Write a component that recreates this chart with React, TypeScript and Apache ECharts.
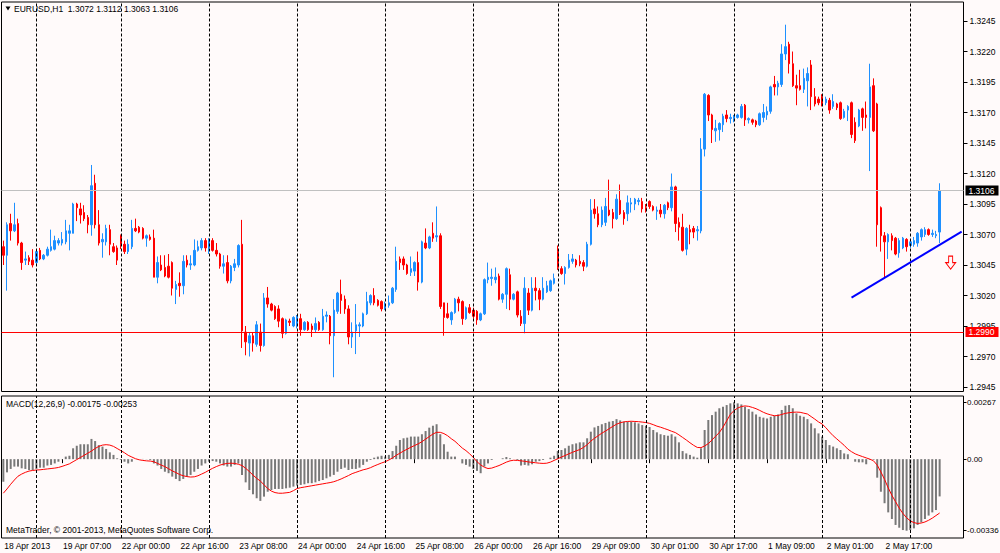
import React, { useEffect, useRef } from 'react';
import * as echarts from 'echarts';

const SYMBOL = 'EURUSD,H1';
const COPYRIGHT = 'MetaTrader, \u00a9 2001-2013, MetaQuotes Software Corp.';
const MACD_NAME = 'MACD(12,26,9)';

const dayLabels = ['18 Apr', '19 Apr', '22 Apr', '23 Apr', '24 Apr', '25 Apr', '26 Apr', '29 Apr', '30 Apr', '1 May', '2 May', '3 May'];
const dayFirstHour = [15, 0, 0, 0, 0, 0, 0, 0, 0, 0, 0, 0];
const dayBarCount = [9, 23, 24, 24, 24, 24, 23, 24, 24, 24, 24, 9];
const EMPTY_SLOTS = 6;
const LABEL_EVERY = 16;
const tickLabels = ['18 Apr 2013', '19 Apr 07:00', '22 Apr 00:00', '22 Apr 16:00', '23 Apr 08:00', '24 Apr 00:00', '24 Apr 16:00', '25 Apr 08:00', '26 Apr 00:00', '26 Apr 16:00', '29 Apr 09:00', '30 Apr 01:00', '30 Apr 17:00', '1 May 09:00', '2 May 01:00', '2 May 17:00'];

// [open, close, low, high]
const candles: number[][] = [
  [1.3060,1.3053,1.3045,1.3065],[1.3053,1.3078,1.3024,1.3080],[1.3079,1.3073,1.3065,1.3087],[1.3073,1.3078,1.3072,1.3096],[1.3079,1.3063,1.3061,1.3083],
  [1.3063,1.3047,1.3041,1.3064],[1.3049,1.3050,1.3045,1.3056],[1.3051,1.3048,1.3045,1.3053],[1.3049,1.3045,1.3043,1.3058],[1.3047,1.3056,1.3046,1.3058],
  [1.3057,1.3050,1.3049,1.3059],[1.3050,1.3053,1.3049,1.3054],[1.3053,1.3058,1.3052,1.3060],[1.3057,1.3060,1.3056,1.3074],[1.3058,1.3065,1.3057,1.3069],
  [1.3063,1.3065,1.3061,1.3067],[1.3063,1.3066,1.3061,1.3072],[1.3064,1.3073,1.3062,1.3082],[1.3071,1.3073,1.3057,1.3078],[1.3071,1.3095,1.3071,1.3096],
  [1.3095,1.3092,1.3081,1.3096],[1.3091,1.3086,1.3079,1.3096],[1.3088,1.3083,1.3081,1.3094],[1.3084,1.3078,1.3071,1.3086],[1.3078,1.3110,1.3069,1.3127],
  [1.3112,1.3078,1.3075,1.3119],[1.3078,1.3063,1.3061,1.3090],[1.3064,1.3066,1.3051,1.3071],[1.3064,1.3075,1.3061,1.3078],[1.3074,1.3062,1.3053,1.3078],
  [1.3060,1.3056,1.3055,1.3063],[1.3059,1.3049,1.3045,1.3061],[1.3069,1.3062,1.3058,1.3070],[1.3062,1.3056,1.3054,1.3065],[1.3056,1.3062,1.3054,1.3066],
  [1.3060,1.3075,1.3058,1.3082],[1.3075,1.3073,1.3072,1.3083],[1.3076,1.3072,1.3071,1.3077],[1.3075,1.3067,1.3066,1.3076],[1.3067,1.3069,1.3060,1.3070],
  [1.3068,1.3066,1.3065,1.3070],[1.3067,1.3035,1.3035,1.3074],[1.3035,1.3047,1.3030,1.3052],[1.3045,1.3041,1.3040,1.3053],[1.3043,1.3036,1.3035,1.3053],
  [1.3044,1.3035,1.3034,1.3054],[1.3047,1.3026,1.3020,1.3048],[1.3025,1.3029,1.3013,1.3032],[1.3030,1.3028,1.3019,1.3039],[1.3028,1.3048,1.3021,1.3053],
  [1.3049,1.3045,1.3043,1.3053],[1.3045,1.3046,1.3041,1.3053],[1.3045,1.3057,1.3044,1.3066],[1.3057,1.3060,1.3056,1.3065],[1.3059,1.3065,1.3057,1.3067],
  [1.3065,1.3059,1.3056,1.3067],[1.3059,1.3065,1.3054,1.3067],[1.3065,1.3057,1.3056,1.3067],[1.3057,1.3054,1.3052,1.3063],[1.3054,1.3044,1.3042,1.3055],
  [1.3044,1.3046,1.3038,1.3053],[1.3047,1.3032,1.3030,1.3053],[1.3032,1.3044,1.3030,1.3045],[1.3043,1.3046,1.3040,1.3050],[1.3045,1.3061,1.3043,1.3062],
  [1.3062,1.2991,1.2977,1.3082],[1.2990,1.2982,1.2971,1.2995],[1.2981,1.2987,1.2970,1.2990],[1.2987,1.2981,1.2974,1.2990],[1.2980,1.2996,1.2978,1.2999],
  [1.2990,1.2979,1.2974,1.2997],[1.2979,1.3018,1.2978,1.3022],[1.3018,1.3013,1.3010,1.3027],[1.3013,1.3008,1.3007,1.3014],[1.3011,1.3001,1.3000,1.3012],
  [1.3009,1.2999,1.2994,1.3012],[1.3001,1.2989,1.2985,1.3002],[1.2989,1.3000,1.2988,1.3001],[1.2999,1.2998,1.2995,1.3001],[1.2995,1.3002,1.2994,1.3003],
  [1.2996,1.3003,1.2993,1.3004],[1.3001,1.2992,1.2987,1.3005],[1.2992,1.2998,1.2991,1.2999],[1.2998,1.2992,1.2991,1.2999],[1.2995,1.2992,1.2986,1.2997],
  [1.2992,1.2997,1.2990,1.3002],[1.2998,1.2992,1.2991,1.2999],[1.2992,1.3003,1.2991,1.3009],[1.3003,1.3004,1.2998,1.3007],[1.3003,1.2987,1.2980,1.3004],
  [1.2987,1.3008,1.2953,1.3017],[1.3007,1.3022,1.3005,1.3023],[1.3021,1.3016,1.3005,1.3033],[1.3017,1.3009,1.3005,1.3020],[1.3009,1.2986,1.2980,1.3012],
  [1.2986,1.2990,1.2977,1.2998],[1.2991,1.2996,1.2972,1.3013],[1.2995,1.2996,1.2986,1.2998],[1.2995,1.3005,1.2994,1.3006],[1.3005,1.3015,1.3004,1.3023],
  [1.3014,1.3020,1.3012,1.3021],[1.3020,1.3014,1.3012,1.3026],[1.3016,1.3012,1.3011,1.3017],[1.3015,1.3009,1.3007,1.3016],[1.3009,1.3013,1.3008,1.3015],
  [1.3012,1.3014,1.3010,1.3020],[1.3014,1.3026,1.3013,1.3027],[1.3025,1.3048,1.3023,1.3060],[1.3050,1.3047,1.3041,1.3052],[1.3050,1.3045,1.3041,1.3052],
  [1.3045,1.3038,1.3037,1.3046],[1.3039,1.3042,1.3036,1.3052],[1.3040,1.3047,1.3036,1.3048],[1.3047,1.3031,1.3024,1.3056],[1.3031,1.3064,1.3030,1.3065],
  [1.3063,1.3059,1.3058,1.3075],[1.3059,1.3068,1.3058,1.3069],[1.3071,1.3067,1.3064,1.3080],[1.3068,1.3069,1.3064,1.3093],[1.3069,1.3011,1.3009,1.3071],
  [1.3014,1.3002,1.2987,1.3014],[1.3005,1.3002,1.3001,1.3014],[1.3000,1.3006,1.2996,1.3007],[1.3006,1.3017,1.3005,1.3018],[1.3017,1.3014,1.3007,1.3019],
  [1.3015,1.3001,1.2996,1.3016],[1.3001,1.3010,1.3000,1.3011],[1.3010,1.3006,1.3005,1.3013],[1.3008,1.3003,1.3001,1.3010],[1.3007,1.3000,1.2996,1.3008],
  [1.3000,1.3005,1.2999,1.3006],[1.3005,1.3033,1.3004,1.3034],[1.3033,1.3035,1.3030,1.3047],[1.3034,1.3035,1.3028,1.3042],[1.3033,1.3035,1.3030,1.3043],
  [1.3036,1.3017,1.3016,1.3038],[1.3017,1.3021,1.3014,1.3022],[1.3021,1.3042,1.3009,1.3043],[1.3037,1.3017,1.3008,1.3042],[1.3017,1.3021,1.3016,1.3022],
  [1.3023,1.3004,1.3002,1.3024],[1.3003,1.2997,1.2995,1.3008],[1.2997,1.3026,1.2989,1.3035],[1.3022,1.3008,1.3004,1.3026],[1.3008,1.3026,1.3007,1.3035],
  [1.3026,1.3024,1.3016,1.3035],[1.3024,1.3017,1.3008,1.3026],[1.3017,1.3026,1.3016,1.3035],[1.3023,1.3028,1.3022,1.3032],[1.3024,1.3032,1.3023,1.3033],
  [1.3030,1.3034,1.3029,1.3038],[1.3056,1.3043,1.3041,1.3061],[1.3042,1.3038,1.3037,1.3044],[1.3038,1.3043,1.3029,1.3044],[1.3043,1.3049,1.3042,1.3054],
  [1.3048,1.3050,1.3046,1.3054],[1.3049,1.3045,1.3043,1.3050],[1.3048,1.3046,1.3044,1.3053],[1.3047,1.3044,1.3040,1.3049],[1.3044,1.3062,1.3043,1.3064],
  [1.3062,1.3090,1.3061,1.3099],[1.3091,1.3087,1.3083,1.3099],[1.3087,1.3078,1.3076,1.3093],[1.3078,1.3090,1.3076,1.3093],[1.3080,1.3093,1.3077,1.3100],
  [1.3090,1.3086,1.3085,1.3115],[1.3088,1.3083,1.3075,1.3091],[1.3083,1.3099,1.3082,1.3103],[1.3098,1.3087,1.3086,1.3111],[1.3088,1.3083,1.3078,1.3090],
  [1.3087,1.3096,1.3081,1.3102],[1.3095,1.3096,1.3088,1.3100],[1.3095,1.3099,1.3090,1.3100],[1.3097,1.3098,1.3094,1.3100],[1.3097,1.3091,1.3088,1.3100],
  [1.3092,1.3090,1.3088,1.3095],[1.3097,1.3093,1.3091,1.3098],[1.3093,1.3090,1.3089,1.3094],[1.3089,1.3090,1.3082,1.3093],[1.3090,1.3087,1.3084,1.3095],
  [1.3087,1.3094,1.3083,1.3095],[1.3096,1.3092,1.3090,1.3097],[1.3092,1.3109,1.3089,1.3120],[1.3109,1.3079,1.3072,1.3110],[1.3080,1.3076,1.3065,1.3084],
  [1.3076,1.3057,1.3056,1.3087],[1.3058,1.3075,1.3053,1.3076],[1.3074,1.3072,1.3062,1.3078],[1.3075,1.3072,1.3067,1.3077],[1.3073,1.3074,1.3065,1.3077],
  [1.3073,1.3140,1.3071,1.3149],[1.3140,1.3185,1.3134,1.3186],[1.3184,1.3168,1.3163,1.3185],[1.3168,1.3156,1.3145,1.3169],[1.3155,1.3157,1.3146,1.3164],
  [1.3156,1.3161,1.3147,1.3162],[1.3160,1.3167,1.3154,1.3169],[1.3168,1.3165,1.3162,1.3172],[1.3165,1.3166,1.3161,1.3169],[1.3165,1.3167,1.3162,1.3168],
  [1.3166,1.3168,1.3165,1.3169],[1.3166,1.3175,1.3165,1.3177],[1.3176,1.3164,1.3159,1.3177],[1.3164,1.3165,1.3161,1.3166],[1.3164,1.3162,1.3160,1.3165],
  [1.3163,1.3160,1.3158,1.3164],[1.3160,1.3169,1.3159,1.3170],[1.3166,1.3170,1.3162,1.3177],[1.3168,1.3171,1.3164,1.3175],[1.3171,1.3191,1.3169,1.3192],
  [1.3193,1.3191,1.3184,1.3200],[1.3191,1.3194,1.3184,1.3196],[1.3193,1.3218,1.3191,1.3226],[1.3218,1.3224,1.3213,1.3242],[1.3226,1.3210,1.3202,1.3228],
  [1.3210,1.3192,1.3191,1.3220],[1.3192,1.3190,1.3176,1.3201],[1.3192,1.3189,1.3188,1.3205],[1.3189,1.3198,1.3186,1.3206],[1.3196,1.3202,1.3175,1.3207],
  [1.3209,1.3183,1.3172,1.3213],[1.3183,1.3177,1.3175,1.3190],[1.3181,1.3178,1.3176,1.3183],[1.3183,1.3177,1.3175,1.3185],[1.3178,1.3181,1.3176,1.3183],
  [1.3180,1.3172,1.3169,1.3182],[1.3175,1.3179,1.3173,1.3185],[1.3177,1.3174,1.3172,1.3178],[1.3178,1.3165,1.3164,1.3179],[1.3166,1.3171,1.3165,1.3173],
  [1.3172,1.3175,1.3163,1.3176],[1.3178,1.3152,1.3149,1.3179],[1.3162,1.3147,1.3145,1.3166],[1.3159,1.3172,1.3158,1.3173],[1.3173,1.3166,1.3155,1.3174],
  [1.3168,1.3166,1.3157,1.3179],[1.3166,1.3191,1.3122,1.3210],[1.3192,1.3155,1.3154,1.3198],[1.3177,1.3078,1.3060,1.3178],[1.3092,1.3069,1.3056,1.3093],
  [1.3069,1.3064,1.3035,1.3072],[1.3064,1.3070,1.3050,1.3071],[1.3069,1.3065,1.3057,1.3071],[1.3067,1.3054,1.3053,1.3068],[1.3055,1.3065,1.3051,1.3067],
  [1.3059,1.3067,1.3058,1.3068],[1.3066,1.3060,1.3056,1.3067],[1.3061,1.3064,1.3059,1.3066],[1.3062,1.3065,1.3060,1.3068],[1.3063,1.3071,1.3060,1.3072],
  [1.3068,1.3074,1.3065,1.3075],[1.3070,1.3074,1.3068,1.3076],[1.3074,1.3070,1.3069,1.3075],[1.3070,1.3071,1.3068,1.3074],[1.3069,1.3070,1.3067,1.3073],
  [1.3072,1.3106,1.3063,1.3112],
];

const macdHist: number[] = [
  -0.00106,-0.00062,-0.00046,-0.00035,-0.00035,-0.00043,-0.00046,-0.00051,-0.00051,-0.00046,
  -0.00040,-0.00040,-0.00030,-0.00027,-0.00020,-0.00012,-0.00001,0.00012,0.00016,0.00051,
  0.00063,0.00070,0.00070,0.00070,0.00095,0.00085,0.00066,0.00059,0.00048,0.00032,
  0.00020,0.00004,-0.00004,-0.00012,-0.00020,-0.00012,0.00000,0.00000,0.00001,-0.00001,
  -0.00004,-0.00020,-0.00030,-0.00046,-0.00059,-0.00066,-0.00082,-0.00093,-0.00103,-0.00093,
  -0.00082,-0.00074,-0.00059,-0.00046,-0.00030,-0.00020,-0.00012,-0.00009,-0.00012,-0.00020,
  -0.00030,-0.00035,-0.00035,-0.00027,-0.00020,-0.00074,-0.00109,-0.00145,-0.00165,-0.00184,
  -0.00196,-0.00176,-0.00153,-0.00145,-0.00140,-0.00140,-0.00140,-0.00137,-0.00134,-0.00129,
  -0.00124,-0.00121,-0.00118,-0.00113,-0.00113,-0.00109,-0.00103,-0.00098,-0.00090,-0.00082,
  -0.00074,-0.00059,-0.00046,-0.00040,-0.00051,-0.00046,-0.00046,-0.00040,-0.00027,-0.00012,
  -0.00004,0.00007,0.00012,0.00016,0.00012,0.00020,0.00038,0.00063,0.00090,0.00098,
  0.00101,0.00106,0.00106,0.00106,0.00117,0.00132,0.00148,0.00157,0.00164,0.00117,
  0.00070,0.00035,0.00012,0.00012,0.00000,-0.00020,-0.00027,-0.00035,-0.00046,-0.00055,
  -0.00066,-0.00035,-0.00020,-0.00004,0.00000,0.00000,0.00004,0.00010,0.00004,0.00000,
  -0.00004,-0.00030,-0.00027,-0.00030,-0.00024,-0.00012,-0.00009,-0.00004,0.00000,0.00007,
  0.00016,0.00038,0.00043,0.00051,0.00063,0.00070,0.00074,0.00079,0.00079,0.00098,
  0.00129,0.00149,0.00156,0.00164,0.00170,0.00176,0.00179,0.00188,0.00182,0.00176,
  0.00176,0.00176,0.00173,0.00168,0.00160,0.00157,0.00151,0.00137,0.00126,0.00117,
  0.00113,0.00110,0.00117,0.00106,0.00079,0.00038,0.00027,0.00020,0.00012,0.00007,
  0.00051,0.00137,0.00184,0.00207,0.00223,0.00239,0.00246,0.00254,0.00262,0.00267,
  0.00262,0.00257,0.00246,0.00235,0.00223,0.00210,0.00199,0.00195,0.00191,0.00199,
  0.00204,0.00210,0.00231,0.00251,0.00254,0.00239,0.00215,0.00204,0.00199,0.00188,
  0.00168,0.00145,0.00121,0.00106,0.00090,0.00066,0.00059,0.00051,0.00043,0.00027,
  0.00023,0.00000,-0.00012,-0.00015,-0.00015,-0.00024,-0.00003,-0.00003,-0.00087,-0.00153,
  -0.00207,-0.00250,-0.00281,-0.00309,-0.00322,-0.00333,-0.00336,-0.00333,-0.00325,-0.00309,
  -0.00297,-0.00281,-0.00265,-0.00250,-0.00239,-0.00175,
];

const macdSignal: number[] = [
  -0.00160,-0.00140,-0.00118,-0.00098,-0.00080,-0.00070,-0.00062,-0.00056,-0.00053,-0.00051,
  -0.00050,-0.00048,-0.00046,-0.00044,-0.00042,-0.00039,-0.00034,-0.00028,-0.00022,-0.00012,
  -0.00002,0.00008,0.00018,0.00028,0.00038,0.00050,0.00060,0.00066,0.00068,0.00066,
  0.00060,0.00050,0.00040,0.00030,0.00018,0.00010,0.00002,-0.00003,-0.00006,-0.00008,
  -0.00009,-0.00012,-0.00020,-0.00028,-0.00035,-0.00045,-0.00055,-0.00063,-0.00072,-0.00078,
  -0.00082,-0.00084,-0.00083,-0.00078,-0.00070,-0.00062,-0.00052,-0.00043,-0.00035,-0.00028,
  -0.00023,-0.00020,-0.00019,-0.00020,-0.00024,-0.00030,-0.00043,-0.00058,-0.00075,-0.00090,
  -0.00103,-0.00120,-0.00138,-0.00150,-0.00157,-0.00160,-0.00160,-0.00158,-0.00156,-0.00148,
  -0.00138,-0.00134,-0.00131,-0.00128,-0.00125,-0.00122,-0.00119,-0.00116,-0.00113,-0.00110,
  -0.00106,-0.00100,-0.00093,-0.00085,-0.00077,-0.00068,-0.00062,-0.00056,-0.00050,-0.00046,
  -0.00040,-0.00032,-0.00025,-0.00018,-0.00012,-0.00004,0.00006,0.00018,0.00028,0.00038,
  0.00047,0.00056,0.00064,0.00072,0.00082,0.00094,0.00106,0.00118,0.00126,0.00126,
  0.00120,0.00110,0.00096,0.00084,0.00068,0.00052,0.00040,0.00025,0.00008,-0.00012,
  -0.00027,-0.00038,-0.00044,-0.00042,-0.00036,-0.00030,-0.00022,-0.00014,-0.00008,-0.00005,
  -0.00006,-0.00008,-0.00010,-0.00013,-0.00015,-0.00017,-0.00019,-0.00020,-0.00019,-0.00014,
  -0.00006,0.00002,0.00010,0.00017,0.00025,0.00032,0.00039,0.00045,0.00055,0.00068,
  0.00085,0.00098,0.00110,0.00122,0.00132,0.00143,0.00154,0.00164,0.00171,0.00175,
  0.00177,0.00178,0.00177,0.00176,0.00174,0.00172,0.00168,0.00162,0.00155,0.00150,
  0.00144,0.00138,0.00131,0.00125,0.00114,0.00102,0.00090,0.00077,0.00065,0.00055,
  0.00054,0.00062,0.00073,0.00090,0.00108,0.00125,0.00150,0.00180,0.00210,0.00228,
  0.00240,0.00247,0.00250,0.00248,0.00243,0.00237,0.00229,0.00220,0.00213,0.00208,
  0.00204,0.00205,0.00210,0.00215,0.00218,0.00220,0.00221,0.00220,0.00216,0.00212,
  0.00200,0.00188,0.00175,0.00165,0.00148,0.00128,0.00110,0.00095,0.00080,0.00065,
  0.00047,0.00035,0.00025,0.00018,0.00012,0.00006,0.00000,-0.00008,-0.00028,-0.00060,
  -0.00095,-0.00135,-0.00170,-0.00200,-0.00230,-0.00255,-0.00275,-0.00290,-0.00298,-0.00302,
  -0.00300,-0.00295,-0.00287,-0.00277,-0.00265,-0.00253,
];

const supportLevel = 1.2990;
const trendLine = [[231, 1.30183], [261, 1.30723]];
const arrowMark = [258, 1.3047];
const PRICE_AXIS_MIN = 1.2945;
const PRICE_AXIS_MAX = 1.32606;
const PRICE_STEP = 0.0025;

const FONT_FAMILY = '"Liberation Sans", Arial, sans-serif';
const FONT_SIZE = 8.5;
const BG = '#fffafa';
const BULL = '#1e90ff';
const BEAR = '#ff0000';

export default function App() {
  const ref = useRef<HTMLDivElement>(null);
  useEffect(() => {
    document.body.style.margin = '0';
    const chart = echarts.init(ref.current!, null, { renderer: 'svg' });

    const categories: string[] = [];
    const separators: number[] = [];
    dayLabels.forEach((d, k) => {
      if (k > 0) separators.push(categories.length);
      for (let h = 0; h < dayBarCount[k]; h++) {
        categories.push(`${d} ${String(dayFirstHour[k] + h).padStart(2, '0')}:00`);
      }
    });
    const nBars = categories.length;
    const xCats = categories.concat(Array.from({ length: EMPTY_SLOTS }, (_, i) => `pad${i}`));
    const showTick = (idx: number) => idx % LABEL_EVERY === 0 && idx < nBars && idx / LABEL_EVERY < tickLabels.length;

    const last = candles[candles.length - 1];
    const f4 = (v: number) => v.toFixed(4);
    const title = `${SYMBOL}  ${f4(last[0])} ${f4(last[3])} ${f4(last[2])} ${f4(last[1])}`;
    const macdTitle = `${MACD_NAME} ${macdHist[macdHist.length - 1].toFixed(5)} ${macdSignal[macdSignal.length - 1].toFixed(5)}`;
    const macdMin = Math.min(...macdHist, ...macdSignal);
    const macdMax = Math.max(...macdHist, ...macdSignal);

    const L = 1.5;
    const W = 962;
    const textStyle = { color: '#000', fontSize: FONT_SIZE, fontFamily: FONT_FAMILY };
    const sepLine = {
      silent: true,
      symbol: ['none', 'none'],
      label: { show: false },
      lineStyle: { color: '#000', type: [3, 2], width: 1 },
      data: separators.map((i) => ({ xAxis: i })),
    };
    const boxLabel = (bg: string) => ({
      show: true,
      position: 'end',
      formatter: (p: any) => Number(p.value).toFixed(4),
      color: '#fff',
      backgroundColor: bg,
      padding: [1, 4, 0, 3],
      fontSize: FONT_SIZE,
      fontFamily: FONT_FAMILY,
      distance: 2,
    });

    const option: any = {
      animation: false,
      backgroundColor: BG,
      grid: [
        { left: L, width: W, top: 2, height: 385, outerBoundsMode: 'none' },
        { left: L, width: W, top: 402.3, height: 128.4, outerBoundsMode: 'none' },
        { left: L, width: W, top: 2, height: 389.5, show: true, borderColor: '#000', borderWidth: 1, backgroundColor: 'transparent', outerBoundsMode: 'none' },
        { left: L, width: W, top: 396, height: 142, show: true, borderColor: '#000', borderWidth: 1, backgroundColor: 'transparent', outerBoundsMode: 'none' },
      ],
      xAxis: [
        { gridIndex: 0, type: 'category', data: xCats, boundaryGap: true, show: false },
        {
          gridIndex: 1, type: 'category', data: xCats, boundaryGap: true, offset: 7.3,
          axisLine: { show: false },
          axisTick: { show: true, interval: showTick, alignWithLabel: true, length: 4, lineStyle: { color: '#000' } },
          axisLabel: { ...textStyle, interval: showTick, align: 'left', margin: 3, padding: [0, 0, 0, 1], formatter: (_v: string, idx: number) => tickLabels[idx / LABEL_EVERY] },
          splitLine: { show: false },
        },
        { gridIndex: 2, type: 'category', data: xCats, boundaryGap: true, show: false },
        { gridIndex: 3, type: 'category', data: xCats, boundaryGap: true, show: false },
      ],
      yAxis: [
        {
          gridIndex: 0, type: 'value', position: 'right', min: PRICE_AXIS_MIN, max: PRICE_AXIS_MAX, interval: PRICE_STEP,
          axisLine: { show: false },
          axisTick: { show: true, length: 4, lineStyle: { color: '#000' } },
          axisLabel: { ...textStyle, margin: 6, showMaxLabel: false, formatter: (v: number) => v.toFixed(4) },
          splitLine: { show: false },
        },
        {
          gridIndex: 1, type: 'value', position: 'right', min: macdMin, max: macdMax, interval: -macdMin,
          axisLine: { show: false },
          axisTick: { show: true, length: 3, lineStyle: { color: '#000' } },
          axisLabel: { ...textStyle, fontSize: 8, margin: 3.5, formatter: (v: number) => (Math.abs(v) < 1e-9 ? '0.00' : v.toFixed(5)) },
          splitLine: { show: false },
        },
        { gridIndex: 2, type: 'value', min: 0, max: 1, show: false },
        { gridIndex: 3, type: 'value', min: 0, max: 1, show: false },
      ],
      series: [
        { type: 'line', xAxisIndex: 2, yAxisIndex: 2, data: [], z: 1, markLine: sepLine },
        { type: 'line', xAxisIndex: 3, yAxisIndex: 3, data: [], z: 1, markLine: sepLine },
        {
          type: 'candlestick', xAxisIndex: 0, yAxisIndex: 0, data: candles, barWidth: 2, z: 3,
          itemStyle: { color: BULL, color0: BEAR, borderColor: BULL, borderColor0: BEAR, borderWidth: 1 },
          markLine: {
            silent: true, symbol: ['none', 'none'], precision: 5,
            data: [
              { yAxis: last[1], lineStyle: { color: '#c0c0c0', type: 'solid', width: 1 }, label: boxLabel('#000') },
              { yAxis: supportLevel, lineStyle: { color: '#ff0000', type: 'solid', width: 1 }, label: boxLabel('#ff0000') },
              [
                { coord: trendLine[0], lineStyle: { color: '#0000ff', type: 'solid', width: 2 }, label: { show: false } },
                { coord: trendLine[1], lineStyle: { color: '#0000ff', type: 'solid', width: 2 }, label: { show: false } },
              ],
            ],
          },
          markPoint: {
            silent: true,
            symbol: 'path://M3,0L7,0L7,6L10,6L5,12L0,6L3,6Z',
            symbolSize: [10, 13],
            itemStyle: { color: BG, borderColor: '#ff0000', borderWidth: 1 },
            label: { show: false },
            data: [{ coord: arrowMark }],
          },
        },
        { type: 'bar', xAxisIndex: 1, yAxisIndex: 1, data: macdHist, barWidth: 2, z: 2, itemStyle: { color: '#787878' } },
        { type: 'line', xAxisIndex: 1, yAxisIndex: 1, data: macdSignal, z: 3, showSymbol: false, symbol: 'none', lineStyle: { color: '#ff0000', width: 1 } },
      ],
      graphic: {
        elements: [
          { type: 'polygon', shape: { points: [[5.5, 6.5], [10.5, 6.5], [8, 10.5]] }, style: { fill: '#000' }, silent: true },
          { type: 'text', x: 14, y: 9, silent: true, style: { text: title, fill: '#000', fontSize: FONT_SIZE, fontFamily: FONT_FAMILY, textAlign: 'left', textVerticalAlign: 'middle' } },
          { type: 'text', x: 6, y: 404, silent: true, style: { text: macdTitle, fill: '#000', fontSize: FONT_SIZE, fontFamily: FONT_FAMILY, textAlign: 'left', textVerticalAlign: 'middle' } },
          { type: 'text', x: 6, y: 530, silent: true, style: { text: COPYRIGHT, fill: '#000', fontSize: FONT_SIZE, fontFamily: FONT_FAMILY, textAlign: 'left', textVerticalAlign: 'middle' } },
        ],
      },
    };
    chart.setOption(option);
    return () => chart.dispose();
  }, []);
  return <div ref={ref} style={{ width: 1000, height: 553 }} />;
}
